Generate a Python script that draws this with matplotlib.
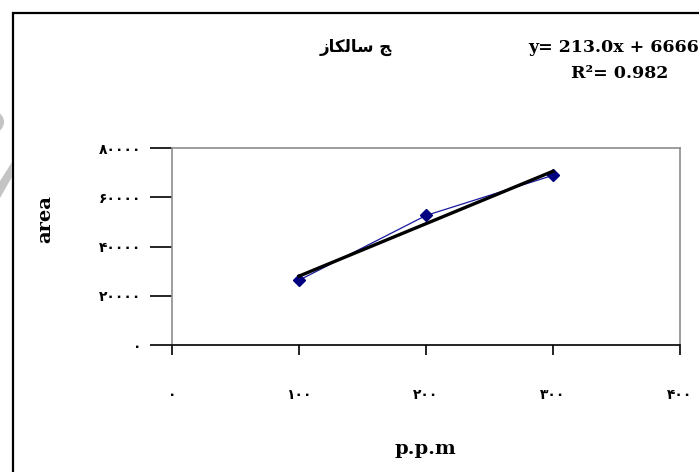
import matplotlib
matplotlib.use("Agg")
import matplotlib.pyplot as plt
from matplotlib.patches import Rectangle, Polygon, Ellipse

# ---- data ----
ppm = [100, 200, 300]
area = [26300, 52600, 68900]
trend_slope = 213.0
trend_intercept = 6666.7
x_ticks = [0, 100, 200, 300, 400]
x_tick_labels = ["۰", "۱۰۰", "۲۰۰", "۳۰۰", "۴۰۰"]
y_ticks = [0, 20000, 40000, 60000, 80000]
y_tick_labels = ["۰", "۲۰۰۰۰", "۴۰۰۰۰", "۶۰۰۰۰", "۸۰۰۰۰"]
title_text = "ﺯﺎﮑﻟﺎﺳ ﺞ"
eq_text = "y= 213.0x + 6666"
r2_text = "R²= 0.982"
x_label = "p.p.m"
y_label = "area"

W, H = 699, 472
fig = plt.figure(figsize=(W / 100, H / 100), dpi=100)
fig.patch.set_facecolor("white")

def fx(px):
    return px / W

def fy(py):
    return 1 - py / H

# outer frame (left and top edges visible)
fig.patches.append(Rectangle((fx(13), fy(600)), fx(800), fy(13) - fy(600),
                             transform=fig.transFigure, fill=False,
                             edgecolor="black", linewidth=1.6))
# gray watermark fragments at far left
fig.patches.append(Polygon([(fx(0), fy(181)), (fx(12), fy(162)), (fx(12), fy(177)), (fx(0), fy(198))],
                           closed=True, transform=fig.transFigure,
                           facecolor="#c4c4c4", edgecolor="none"))
fig.patches.append(Ellipse((fx(-20), fy(122)), fx(44), 26 / H, transform=fig.transFigure,
                           fill=False, edgecolor="#c4c4c4", linewidth=3))

left, right, top, bottom = 172, 680, 148, 345
ax = fig.add_axes([fx(left), fy(bottom), fx(right - left), fy(top) - fy(bottom)])
ax.set_xlim(x_ticks[0], x_ticks[-1])
ax.set_ylim(y_ticks[0], y_ticks[-1])

for s in ["top", "right", "left"]:
    ax.spines[s].set_color("#8c8c8c")
    ax.spines[s].set_linewidth(1.2)
ax.spines["bottom"].set_color("black")
ax.spines["bottom"].set_linewidth(1.2)

ax.plot(ppm, area, color="#1a1aa0", linewidth=0.9, marker="D", markersize=6.5,
        markerfacecolor="#000080", markeredgecolor="#000080", zorder=3)
tx = [ppm[0], ppm[-1]]
ty = [trend_slope * v + trend_intercept for v in tx]
ax.plot(tx, ty, color="black", linewidth=2.4, zorder=4)

ax.set_xticks(x_ticks)
ax.set_xticklabels(x_tick_labels, fontfamily="DejaVu Sans", fontweight="bold", fontsize=10)
ax.set_yticks(y_ticks)
ax.set_yticklabels(y_tick_labels, fontfamily="DejaVu Sans", fontweight="bold", fontsize=10)
ax.tick_params(axis="x", direction="out", length=7, width=1.2, color="black", pad=24)
ax.tick_params(axis="y", direction="out", length=16, width=1.2, color="black", pad=6)

ax.set_xlabel(x_label, fontfamily="DejaVu Serif", fontweight="bold", fontsize=14)
ax.xaxis.set_label_coords(0.498, -0.48)
ax.set_ylabel(y_label, fontfamily="DejaVu Serif", fontweight="bold", fontsize=14)
ax.yaxis.set_label_coords(-0.232, 0.64)

fig.text(fx(356), fy(47), title_text, fontfamily="DejaVu Sans", fontweight="bold",
         fontsize=12, ha="center", va="center")
fig.text(fx(528), fy(47), eq_text, fontfamily="DejaVu Serif", fontweight="bold",
         fontsize=12.5, ha="left", va="center")
fig.text(fx(620), fy(74), r2_text, fontfamily="DejaVu Serif", fontweight="bold",
         fontsize=12.5, ha="center", va="center")

fig.savefig("out.png", dpi=100, facecolor="white")
